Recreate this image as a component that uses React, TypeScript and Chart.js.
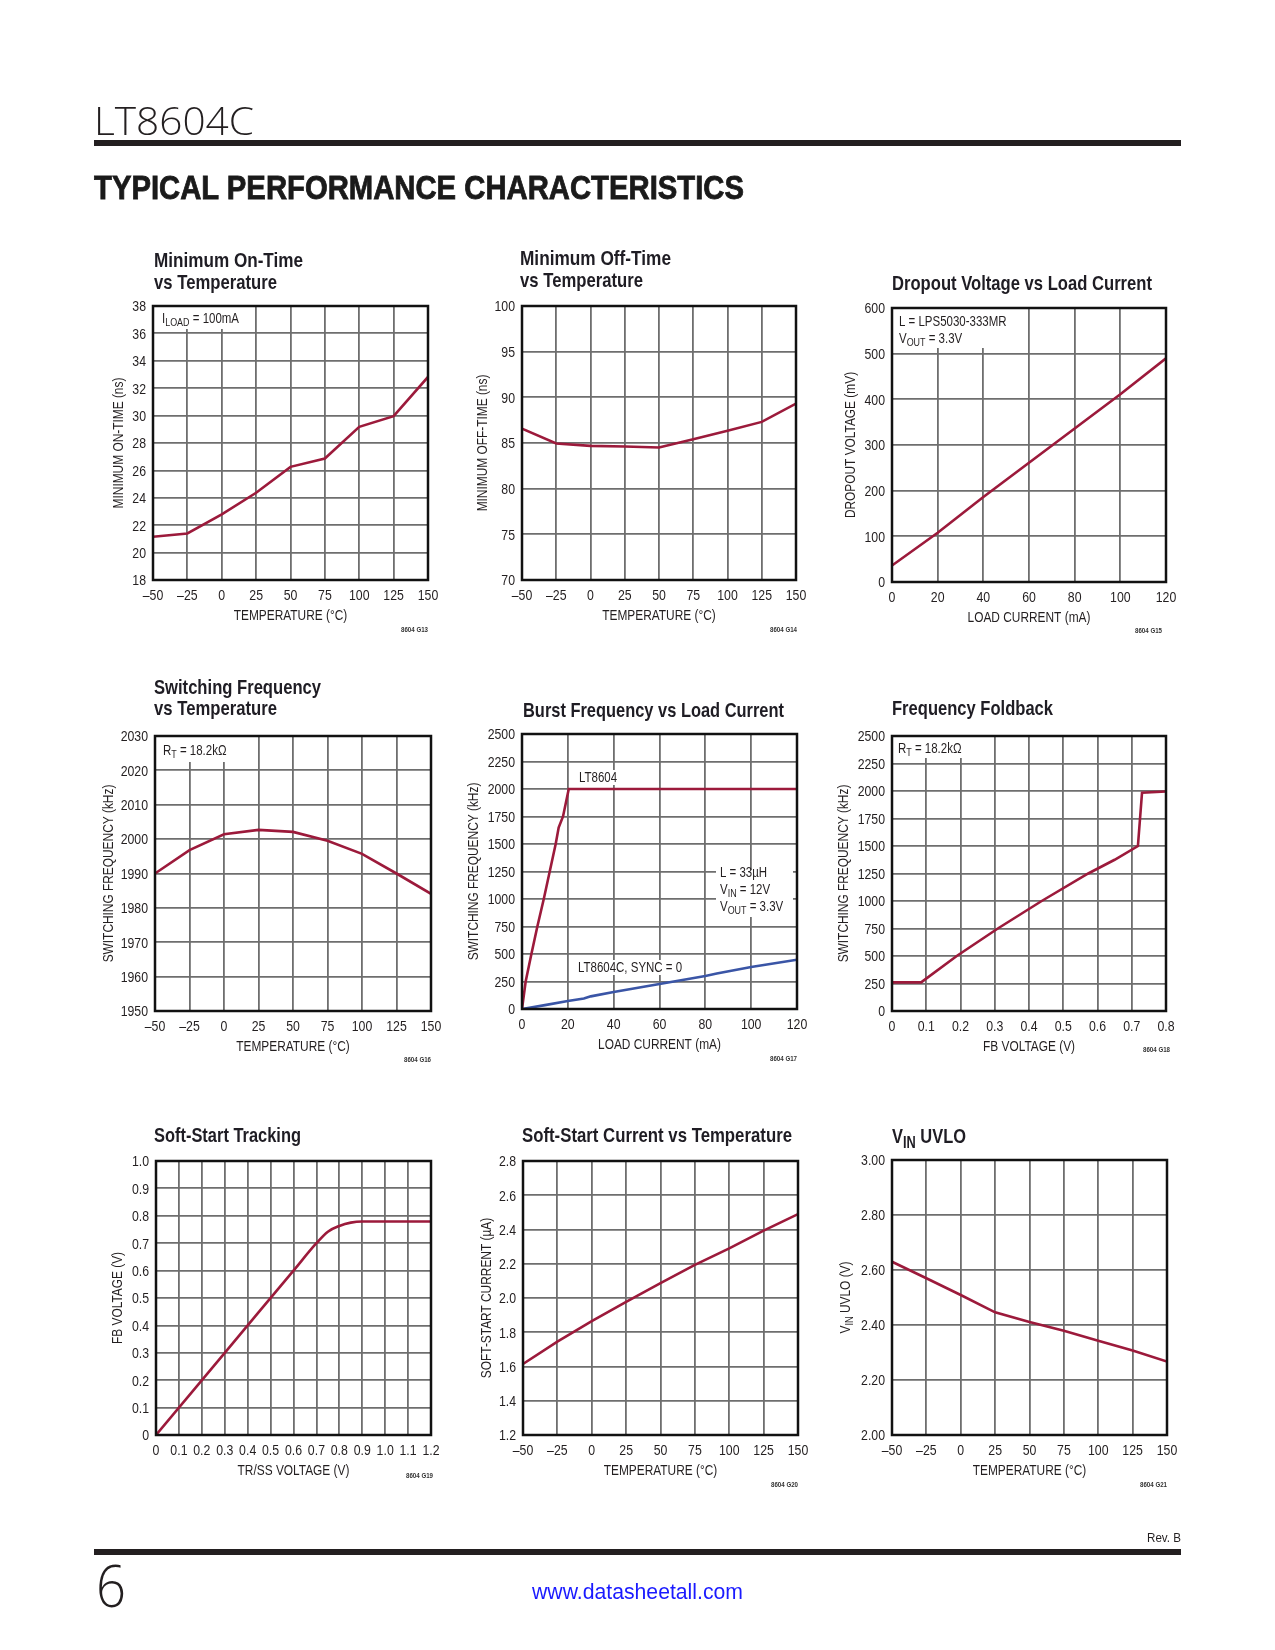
import React, { useEffect, useRef } from 'react';
import { Chart, registerables } from 'chart.js';

Chart.register(...registerables);

const RED = '#9c1a3b';
const BLUE = '#3a55a6';
const INK = '#231f20';
const GRID = '#6e6e6e';
const SANS = "'Liberation Sans', Arial, sans-serif";
const SX = 0.82; // horizontal compression to emulate a condensed face

// ---------- data ----------
const tempX = [-50, -25, 0, 25, 50, 75, 100, 125, 150];
const onTime = [21.16, 21.4, 22.79, 24.37, 26.26, 26.87, 29.18, 29.96, 32.82];
const offTime = [86.58, 84.94, 84.69, 84.62, 84.51, 85.42, 86.33, 87.31, 89.32];
const dropLoad = [0, 20, 40, 60, 80, 100, 120];
const dropV = [36, 108, 186, 261, 336, 411, 490];
const swFreq = [1990, 1996.8, 2001.4, 2002.7, 2002.1, 1999.5, 1995.7, 1990.0, 1984.1];
const burstLoadA = [0, 1.6, 4.1, 6.7, 9.5, 12.1, 14.7, 16, 17.9, 20.4, 120];
const burstFreqA = [0, 250, 500, 750, 1000, 1250, 1500, 1650, 1750, 2000, 2000];
const burstLoadB = [0, 10, 20, 27, 30, 40, 60, 80, 85, 100, 120];
const burstFreqB = [0, 35, 72, 95, 115, 155, 228, 300, 322, 382, 448];
const fbV = [0, 0.085, 0.189, 0.309, 0.437, 0.573, 0.65, 0.718, 0.73, 0.8];
const fbFreq = [260, 260, 500, 750, 1000, 1250, 1375, 1500, 1985, 1995];
const trssV = [0, 0.3, 0.6, 0.7, 0.75, 0.8, 0.85, 0.9, 1.2];
const trssFb = [0, 0.3, 0.6, 0.7, 0.742, 0.763, 0.775, 0.779, 0.779];
const ssCur = [1.615, 1.745, 1.865, 1.978, 2.087, 2.193, 2.29, 2.393, 2.49];
const uvlo = [2.63, 2.57, 2.509, 2.446, 2.411, 2.379, 2.343, 2.307, 2.267];

// ---------- tick values ----------
const tempTicks = [-50, -25, 0, 25, 50, 75, 100, 125, 150];
const onTimeTicks = [18, 20, 22, 24, 26, 28, 30, 32, 34, 36, 38];
const offTimeTicks = [70, 75, 80, 85, 90, 95, 100];
const loadTicks = [0, 20, 40, 60, 80, 100, 120];
const dropTicks = [0, 100, 200, 300, 400, 500, 600];
const swTicks = [1950, 1960, 1970, 1980, 1990, 2000, 2010, 2020, 2030];
const burstTicks = [0, 250, 500, 750, 1000, 1250, 1500, 1750, 2000, 2250, 2500];
const fbTicks = [0, 0.1, 0.2, 0.3, 0.4, 0.5, 0.6, 0.7, 0.8];
const trssXTicks = [0, 0.1, 0.2, 0.3, 0.4, 0.5, 0.6, 0.7, 0.8, 0.9, 1.0, 1.1, 1.2];
const trssYTicks = [0, 0.1, 0.2, 0.3, 0.4, 0.5, 0.6, 0.7, 0.8, 0.9, 1.0];
const ssTicks = [1.2, 1.4, 1.6, 1.8, 2.0, 2.2, 2.4, 2.6, 2.8];
const uvloTicks = [2.0, 2.2, 2.4, 2.6, 2.8, 3.0];

type Seg = { t: string; sub?: boolean };
type Series = { x: number[]; y: number[]; color: string; smooth?: boolean };
type Note = { x: number; y: number; lines: Seg[][]; box?: [number, number, number, number]; auto?: boolean };
type Axis = { min: number; max: number; ticks: number[]; dec: number };
type Spec = {
  plot: [number, number, number, number];
  xa: Axis;
  ya: Axis;
  series: Series[];
  xTitle: Seg[];
  yTitle: Seg[];
  yTitleOff: number;
  code: string;
  codeDx: number;
  codeDy: number;
  notes: Note[];
  title: { lines: Seg[][]; dy: number[]; w: number[]; dx: number };
};

const T = (t: string): Seg[] => [{ t }];
const rt: Seg[] = [{ t: 'R' }, { t: 'T', sub: true }, { t: ' = 18.2kΩ' }];

const specs: Spec[] = [
  {
    plot: [153, 306, 428, 580],
    xa: { min: -50, max: 150, ticks: tempTicks, dec: 0 },
    ya: { min: 18, max: 38, ticks: onTimeTicks, dec: 0 },
    series: [{ x: tempX, y: onTime, color: RED }],
    xTitle: T('TEMPERATURE (°C)'),
    yTitle: T('MINIMUM ON-TIME (ns)'),
    yTitleOff: -30,
    code: '8604 G13', codeDx: 0, codeDy: 52,
    notes: [{ x: 9, y: 17, lines: [[{ t: 'I' }, { t: 'LOAD', sub: true }, { t: ' = 100mA' }]], box: [0, 0, 101, 23] }],
    title: { lines: [T('Minimum On-Time'), T('vs Temperature')], dy: [-39, -17], w: [149, 123], dx: 1 },
  },
  {
    plot: [522, 306, 796, 580],
    xa: { min: -50, max: 150, ticks: tempTicks, dec: 0 },
    ya: { min: 70, max: 100, ticks: offTimeTicks, dec: 0 },
    series: [{ x: tempX, y: offTime, color: RED }],
    xTitle: T('TEMPERATURE (°C)'),
    yTitle: T('MINIMUM OFF-TIME (ns)'),
    yTitleOff: -35,
    code: '8604 G14', codeDx: 1, codeDy: 52,
    notes: [],
    title: { lines: [T('Minimum Off-Time'), T('vs Temperature')], dy: [-41, -19], w: [151, 123], dx: -2 },
  },
  {
    plot: [892, 308, 1166, 582],
    xa: { min: 0, max: 120, ticks: loadTicks, dec: 0 },
    ya: { min: 0, max: 600, ticks: dropTicks, dec: 0 },
    series: [{ x: dropLoad, y: dropV, color: RED }],
    xTitle: T('LOAD CURRENT (mA)'),
    yTitle: T('DROPOUT VOLTAGE (mV)'),
    yTitleOff: -37,
    code: '8604 G15', codeDx: -4, codeDy: 51,
    notes: [{ x: 7, y: 18, lines: [T('L = LPS5030-333MR'), [{ t: 'V' }, { t: 'OUT', sub: true }, { t: ' = 3.3V' }]], box: [0, 0, 133, 40] }],
    title: { lines: [T('Dropout Voltage vs Load Current')], dy: [-18], w: [260], dx: 0 },
  },
  {
    plot: [155, 736, 431, 1011],
    xa: { min: -50, max: 150, ticks: tempTicks, dec: 0 },
    ya: { min: 1950, max: 2030, ticks: swTicks, dec: 0 },
    series: [{ x: tempX, y: swFreq, color: RED }],
    xTitle: T('TEMPERATURE (°C)'),
    yTitle: T('SWITCHING FREQUENCY (kHz)'),
    yTitleOff: -42,
    code: '8604 G16', codeDx: 0, codeDy: 51,
    notes: [{ x: 8, y: 19, lines: [rt], box: [0, 0, 83, 26] }],
    title: { lines: [T('Switching Frequency'), T('vs Temperature')], dy: [-42, -21], w: [167, 123], dx: -1 },
  },
  {
    plot: [522, 734, 797, 1009],
    xa: { min: 0, max: 120, ticks: loadTicks, dec: 0 },
    ya: { min: 0, max: 2500, ticks: burstTicks, dec: 0 },
    series: [
      { x: burstLoadA, y: burstFreqA, color: RED },
      { x: burstLoadB, y: burstFreqB, color: BLUE },
    ],
    xTitle: T('LOAD CURRENT (mA)'),
    yTitle: T('SWITCHING FREQUENCY (kHz)'),
    yTitleOff: -44,
    code: '8604 G17', codeDx: 0, codeDy: 52,
    notes: [
      { x: 57, y: 48, lines: [T('LT8604')], auto: true },
      {
        x: 198, y: 143,
        lines: [T('L = 33µH'), [{ t: 'V' }, { t: 'IN', sub: true }, { t: ' = 12V' }], [{ t: 'V' }, { t: 'OUT', sub: true }, { t: ' = 3.3V' }]],
        box: [194, 136, 271, 183],
      },
      { x: 56, y: 238, lines: [T('LT8604C, SYNC = 0')], auto: true },
    ],
    title: { lines: [T('Burst Frequency vs Load Current')], dy: [-17], w: [261], dx: 1 },
  },
  {
    plot: [892, 736, 1166, 1011],
    xa: { min: 0, max: 0.8, ticks: fbTicks, dec: 1 },
    ya: { min: 0, max: 2500, ticks: burstTicks, dec: 0 },
    series: [{ x: fbV, y: fbFreq, color: RED }],
    xTitle: T('FB VOLTAGE (V)'),
    yTitle: T('SWITCHING FREQUENCY (kHz)'),
    yTitleOff: -44,
    code: '8604 G18', codeDx: 4, codeDy: 41,
    notes: [{ x: 6, y: 17, lines: [rt], box: [0, 0, 77, 22] }],
    title: { lines: [T('Frequency Foldback')], dy: [-21], w: [161], dx: 0 },
  },
  {
    plot: [156, 1161, 431, 1435],
    xa: { min: 0, max: 1.2, ticks: trssXTicks, dec: 1 },
    ya: { min: 0, max: 1.0, ticks: trssYTicks, dec: 1 },
    series: [{ x: trssV, y: trssFb, color: RED, smooth: true }],
    xTitle: T('TR/SS VOLTAGE (V)'),
    yTitle: T('FB VOLTAGE (V)'),
    yTitleOff: -34,
    code: '8604 G19', codeDx: 2, codeDy: 43,
    notes: [],
    title: { lines: [T('Soft-Start Tracking')], dy: [-19], w: [147], dx: -2 },
  },
  {
    plot: [523, 1161, 798, 1435],
    xa: { min: -50, max: 150, ticks: tempTicks, dec: 0 },
    ya: { min: 1.2, max: 2.8, ticks: ssTicks, dec: 1 },
    series: [{ x: tempX, y: ssCur, color: RED }],
    xTitle: T('TEMPERATURE (°C)'),
    yTitle: T('SOFT-START CURRENT (µA)'),
    yTitleOff: -32,
    code: '8604 G20', codeDx: 0, codeDy: 52,
    notes: [],
    title: { lines: [T('Soft-Start Current vs Temperature')], dy: [-19], w: [270], dx: -1 },
  },
  {
    plot: [892, 1160, 1167, 1435],
    xa: { min: -50, max: 150, ticks: tempTicks, dec: 0 },
    ya: { min: 2.0, max: 3.0, ticks: uvloTicks, dec: 2 },
    series: [{ x: tempX, y: uvlo, color: RED }],
    xTitle: T('TEMPERATURE (°C)'),
    yTitle: [{ t: 'V' }, { t: 'IN', sub: true }, { t: ' UVLO (V)' }],
    yTitleOff: -42,
    code: '8604 G21', codeDx: 0, codeDy: 52,
    notes: [],
    title: { lines: [[{ t: 'V' }, { t: 'IN', sub: true }, { t: ' UVLO' }]], dy: [-17], w: [74], dx: 0 },
  },
];

function fmt(v: number, dec: number): string {
  if (Math.abs(v) < 1e-9) return '0';
  return (v < 0 ? '–' : '') + Math.abs(v).toFixed(dec);
}

function fontOf(size: number, bold = false) {
  return `${bold ? 'bold ' : ''}${size}px ${SANS}`;
}

function txt(ctx: CanvasRenderingContext2D, s: string, x: number, y: number, size: number, align: CanvasTextAlign = 'left', bold = false) {
  ctx.save();
  ctx.translate(x, y);
  ctx.scale(SX, 1);
  ctx.font = fontOf(size, bold);
  ctx.textAlign = align;
  ctx.textBaseline = 'alphabetic';
  ctx.fillText(s, 0, 0);
  ctx.restore();
}

function richWidth(ctx: CanvasRenderingContext2D, segs: Seg[], size: number) {
  let w = 0;
  for (const s of segs) {
    ctx.font = fontOf(s.sub ? size * 0.78 : size);
    w += ctx.measureText(s.t).width * SX;
  }
  return w;
}

function drawRich(ctx: CanvasRenderingContext2D, segs: Seg[], x: number, y: number, size: number, center = false) {
  const total = richWidth(ctx, segs, size);
  let cx = center ? x - total / 2 : x;
  for (const s of segs) {
    const sz = s.sub ? size * 0.78 : size;
    txt(ctx, s.t, cx, s.sub ? y + size * 0.24 : y, sz, 'left');
    ctx.font = fontOf(sz);
    cx += ctx.measureText(s.t).width * SX;
  }
}

const PL = 80, PT = 80, PR = 40, PB = 70;

function PlotCanvas({ spec }: { spec: Spec }) {
  const ref = useRef<HTMLCanvasElement>(null);
  const [l, t, r, b] = spec.plot;
  const W = r - l + PL + PR;
  const H = b - t + PT + PB;

  useEffect(() => {
    const plugin = {
      id: 'decor',
      beforeDatasetsDraw(chart: any) {
        const ctx: CanvasRenderingContext2D = chart.ctx;
        const a = chart.chartArea;
        ctx.save();
        for (const n of spec.notes) {
          if (n.box) {
            ctx.fillStyle = '#ffffff';
            ctx.fillRect(a.left + n.box[0], a.top + n.box[1], n.box[2] - n.box[0], n.box[3] - n.box[1]);
          }
          if (n.auto) {
            const w = richWidth(ctx, n.lines[0], 14);
            ctx.fillStyle = '#ffffff';
            ctx.fillRect(a.left + n.x - 2, a.top + n.y - 12, w + 4, 15);
          }
          ctx.fillStyle = INK;
          n.lines.forEach((ln, i) => drawRich(ctx, ln, a.left + n.x, a.top + n.y + i * 17, 14));
        }
        ctx.restore();
      },
      afterDatasetsDraw(chart: any) {
        const ctx: CanvasRenderingContext2D = chart.ctx;
        const a = chart.chartArea;
        ctx.save();
        ctx.strokeStyle = '#111';
        ctx.lineWidth = 2.5;
        ctx.strokeRect(a.left, a.top, a.right - a.left, a.bottom - a.top);
        ctx.fillStyle = INK;
        // tick labels from the library's scales
        const xs = chart.scales.x;
        for (const tk of xs.ticks) {
          txt(ctx, fmt(tk.value, spec.xa.dec), xs.getPixelForValue(tk.value), a.bottom + 19.5, 15, 'center');
        }
        const ys = chart.scales.y;
        for (const tk of ys.ticks) {
          txt(ctx, fmt(tk.value, spec.ya.dec), a.left - 7, ys.getPixelForValue(tk.value) + 5.3, 15, 'right');
        }
        // axis titles
        drawRich(ctx, spec.xTitle, (a.left + a.right) / 2, a.bottom + 40, 14.5, true);
        ctx.save();
        ctx.translate(a.left + spec.yTitleOff, (a.top + a.bottom) / 2);
        ctx.rotate(-Math.PI / 2);
        drawRich(ctx, spec.yTitle, 0, 0, 14.5, true);
        ctx.restore();
        ctx.fillStyle = '#333';
        txt(ctx, spec.code, a.right + spec.codeDx, a.bottom + spec.codeDy, 7.5, 'right', true);
        ctx.restore();
      },
    };

    const mkScale = (ax: Axis, horiz: boolean) => ({
      type: 'linear' as const,
      min: ax.min,
      max: ax.max,
      afterBuildTicks: (s: any) => {
        s.ticks = ax.ticks.map((v) => ({ value: v }));
      },
      afterFit: (s: any) => {
        if (horiz) s.height = PB;
        else s.width = PL;
      },
      grid: { color: GRID, lineWidth: 1.8, drawTicks: false },
      border: { display: false },
      ticks: { display: false, autoSkip: false, maxRotation: 0 },
    });

    const chart = new Chart(ref.current!, {
      type: 'line',
      data: {
        datasets: spec.series.map((s) => ({
          data: s.x.map((x, i) => ({ x, y: s.y[i] })),
          borderColor: s.color,
          backgroundColor: s.color,
          borderWidth: 2.6,
          pointRadius: 0,
          fill: false,
          tension: s.smooth ? 0.4 : 0,
          cubicInterpolationMode: s.smooth ? 'monotone' : 'default',
        })) as any,
      },
      options: {
        animation: false,
        responsive: false,
        maintainAspectRatio: false,
        events: [],
        layout: { padding: { left: 0, top: PT, right: PR, bottom: 0 } },
        plugins: { legend: { display: false }, tooltip: { enabled: false }, title: { display: false } },
        scales: { x: mkScale(spec.xa, true), y: mkScale(spec.ya, false) } as any,
      },
      plugins: [plugin],
    });
    return () => chart.destroy();
  }, [spec]);

  return (
    <canvas
      ref={ref}
      width={W}
      height={H}
      style={{ position: 'absolute', left: l - PL, top: t - PT, width: W, height: H }}
    />
  );
}

function SvgRich(props: {
  segs: Seg[]; x: number; y: number; size: number; weight?: number | string; fill?: string;
  anchor?: 'start' | 'end' | 'middle'; len?: number; family?: string; stroke?: number;
}) {
  const { segs, x, y, size, weight = 'normal', fill = INK, anchor = 'start', len, family = SANS, stroke } = props;
  const kids: any[] = [];
  let shifted = false;
  segs.forEach((s, i) => {
    if (s.sub) {
      kids.push(<tspan key={i} dy={size * 0.25} fontSize={size * 0.78}>{s.t}</tspan>);
      shifted = true;
    } else {
      kids.push(<tspan key={i} dy={shifted ? -size * 0.25 : 0}>{s.t}</tspan>);
      shifted = false;
    }
  });
  return (
    <text
      x={x}
      y={y}
      fontSize={size}
      fontFamily={family}
      fontWeight={weight}
      fill={fill}
      textAnchor={anchor}
      textLength={len}
      lengthAdjust={len ? 'spacingAndGlyphs' : undefined}
      stroke={stroke ? fill : undefined}
      strokeWidth={stroke}
      style={{ whiteSpace: 'pre' }}
    >
      {kids}
    </text>
  );
}

export default function App() {
  return (
    <div style={{ position: 'absolute', left: 0, top: 0, width: 1275, height: 1650, background: '#fff', overflow: 'hidden' }}>
      {specs.map((s, i) => (
        <PlotCanvas key={i} spec={s} />
      ))}
      <svg width={1275} height={1650} style={{ position: 'absolute', left: 0, top: 0, pointerEvents: 'none' }}>
        <SvgRich segs={T('LT8604C')} x={94} y={135} size={39} weight={300} family="'Open Sans', 'Lato', 'Liberation Sans', sans-serif" len={160} fill="#231f20" />
        <rect x={94} y={140} width={1087} height={6} fill="#231f20" />
        <SvgRich segs={T('TYPICAL PERFORMANCE CHARACTERISTICS')} x={94} y={199} size={33} weight={900} family="'Liberation Sans', 'DejaVu Sans', sans-serif" len={650} fill="#1a1a1a" stroke={0.8} />
        {specs.map((s, i) =>
          s.title.lines.map((ln, j) => (
            <SvgRich
              key={`t${i}-${j}`}
              segs={ln}
              x={s.plot[0] + s.title.dx}
              y={s.plot[1] + s.title.dy[j]}
              size={21}
              weight="bold"
              len={s.title.w[j]}
              fill="#1f1d24"
            />
          ))
        )}
        <SvgRich segs={T('Rev. B')} x={1181} y={1542} size={13} anchor="end" len={34} />
        <rect x={94} y={1549} width={1087} height={6} fill="#231f20" />
        <SvgRich segs={T('6')} x={96} y={1607} size={58} weight={300} family="'Open Sans', 'Liberation Sans', sans-serif" len={30} />
        <SvgRich segs={T('www.datasheetall.com')} x={532} y={1599} size={22} fill="#1a1aff" len={211} />
      </svg>
    </div>
  );
}
